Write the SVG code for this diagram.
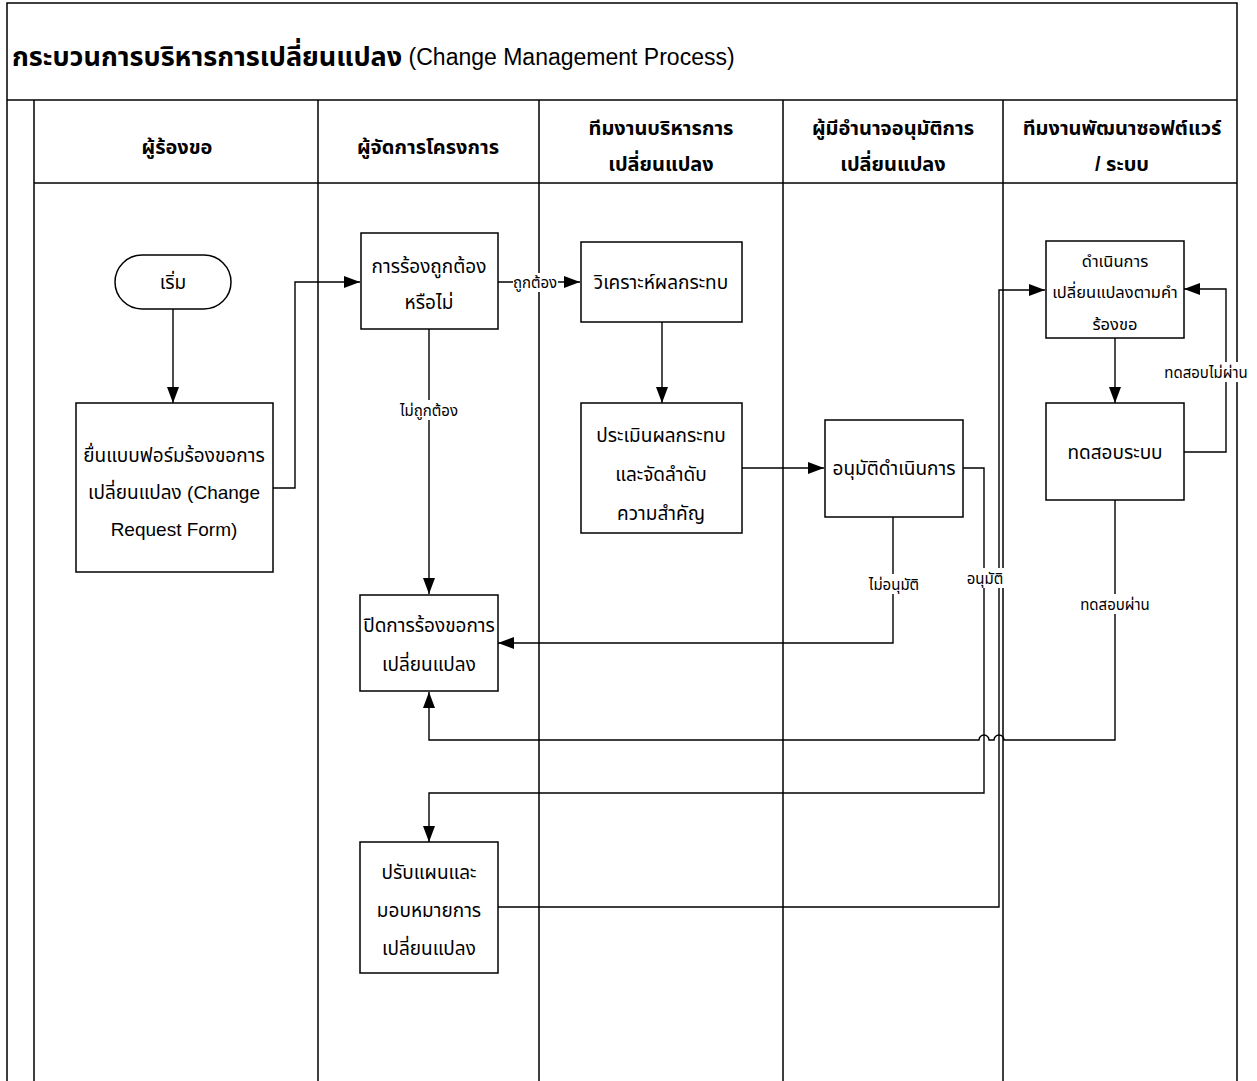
<svg xmlns="http://www.w3.org/2000/svg" width="1257" height="1081" viewBox="0 0 1257 1081">
<style>
.frame{fill:none;stroke:#000;stroke-width:1.5}
.box{fill:#fff;stroke:#000;stroke-width:1.5}
.conn{fill:none;stroke:#000;stroke-width:1.4}
.t{font-family:"Liberation Sans","Noto Sans Thai",sans-serif;font-size:19px;text-anchor:middle;dominant-baseline:central;fill:#000}
.s{font-size:16.5px}
.h{font-family:"Liberation Sans","Noto Sans Thai",sans-serif;font-size:20px;font-weight:bold;text-anchor:middle;dominant-baseline:central;fill:#000}
.lbl{font-family:"Liberation Sans","Noto Sans Thai",sans-serif;font-size:15px;text-anchor:middle;dominant-baseline:central;fill:#000}
.bg{fill:#fff}
</style>
<defs>
<marker id="arr" markerUnits="userSpaceOnUse" markerWidth="17" markerHeight="13" refX="16" refY="6" orient="auto">
<path d="M0,0 L16,6 L0,12 z" fill="#000"/>
</marker>
</defs>
<rect width="1257" height="1081" fill="#fff"/>
<g id="pool">
<path class="frame" d="M7,1081 V3 H1237 V1081"/>
<path class="frame" d="M7,100 H1237"/>
<path class="frame" d="M34,183 H1237"/>
<path class="frame" d="M34,100 V1081 M318,100 V1081 M539,100 V1081 M783,100 V1081 M1003,100 V1081"/>
<text x="12" y="57" style="font-family:'Liberation Sans','Noto Sans Thai',sans-serif;font-size:23px;dominant-baseline:central"><tspan font-weight="bold" font-size="27">กระบวนการบริหารการเปลี่ยนแปลง</tspan> (Change Management Process)</text>
<text class="h" x="177" y="147">ผู้ร้องขอ</text>
<text class="h" x="428" y="147">ผู้จัดการโครงการ</text>
<text class="h" x="661" y="128">ทีมงานบริหารการ</text>
<text class="h" x="661" y="164">เปลี่ยนแปลง</text>
<text class="h" x="893" y="128">ผู้มีอำนาจอนุมัติการ</text>
<text class="h" x="893" y="164">เปลี่ยนแปลง</text>
<text class="h" x="1122" y="128">ทีมงานพัฒนาซอฟต์แวร์</text>
<text class="h" x="1122" y="164">/ ระบบ</text>
</g>
<g id="connectors">
<path class="conn" d="M173,309 V403" marker-end="url(#arr)"/>
<path class="conn" d="M273,488 H295 V282 H360" marker-end="url(#arr)"/>
<path class="conn" d="M498,282 H580" marker-end="url(#arr)"/>
<path class="conn" d="M429,329 V594" marker-end="url(#arr)"/>
<path class="conn" d="M662,322 V403" marker-end="url(#arr)"/>
<path class="conn" d="M742,468 H824" marker-end="url(#arr)"/>
<path class="conn" d="M893,517 V643 H498" marker-end="url(#arr)"/>
<path class="conn" d="M963,468 H984 V793 H429 V842" marker-end="url(#arr)"/>
<path class="conn" d="M498,907 H999 V290 H1045" marker-end="url(#arr)"/>
<path class="conn" d="M1115,338 V403" marker-end="url(#arr)"/>
<path class="conn" d="M1184,452 H1226 V289 H1184" marker-end="url(#arr)"/>
<path class="conn" d="M1115,500 V740 H1004 A5,5 0 0 0 994,740 H989 A5,5 0 0 0 979,740 H429 V692" marker-end="url(#arr)"/>
<rect class="bg" x="513" y="273" width="45" height="19"/>
<text class="lbl" x="535" y="282">ถูกต้อง</text>
<rect class="bg" x="396" y="400" width="66" height="20"/>
<text class="lbl" x="429" y="410">ไม่ถูกต้อง</text>
<rect class="bg" x="864" y="574" width="60" height="20"/>
<text class="lbl" x="894" y="584">ไม่อนุมัติ</text>
<rect class="bg" x="965" y="568" width="40" height="20"/>
<text class="lbl" x="985" y="578">อนุมัติ</text>
<rect class="bg" x="1079" y="594" width="72" height="20"/>
<text class="lbl" x="1115" y="604">ทดสอบผ่าน</text>
<rect class="bg" x="1163" y="362" width="86" height="20"/>
<text class="lbl" x="1206" y="372">ทดสอบไม่ผ่าน</text>
</g>
<g id="start">
<rect class="box" x="115" y="255" width="116" height="54" rx="27" ry="27"/>
<text class="t" x="173" y="282">เริ่ม</text>
</g>
<g id="submit">
<rect class="box" x="76" y="403" width="197" height="169"/>
<text class="t" x="174" y="455">ยื่นแบบฟอร์มร้องขอการ</text>
<text class="t" x="174" y="492">เปลี่ยนแปลง (Change</text>
<text class="t" x="174" y="529">Request Form)</text>
</g>
<g id="check">
<rect class="box" x="361" y="233" width="137" height="96"/>
<text class="t" x="429" y="266">การร้องถูกต้อง</text>
<text class="t" x="429" y="302">หรือไม่</text>
</g>
<g id="analyze">
<rect class="box" x="581" y="242" width="161" height="80"/>
<text class="t" x="661" y="282">วิเคราะห์ผลกระทบ</text>
</g>
<g id="assess">
<rect class="box" x="581" y="403" width="161" height="130"/>
<text class="t" x="661" y="435">ประเมินผลกระทบ</text>
<text class="t" x="661" y="474">และจัดลำดับ</text>
<text class="t" x="661" y="513">ความสำคัญ</text>
</g>
<g id="approve">
<rect class="box" x="825" y="420" width="138" height="97"/>
<text class="t" x="894" y="468">อนุมัติดำเนินการ</text>
</g>
<g id="implement">
<rect class="box" x="1046" y="241" width="138" height="97"/>
<text class="t s" x="1115" y="261">ดำเนินการ</text>
<text class="t s" x="1115" y="292">เปลี่ยนแปลงตามคำ</text>
<text class="t s" x="1115" y="324">ร้องขอ</text>
</g>
<g id="test">
<rect class="box" x="1046" y="403" width="138" height="97"/>
<text class="t" x="1115" y="452">ทดสอบระบบ</text>
</g>
<g id="close">
<rect class="box" x="360" y="595" width="138" height="96"/>
<text class="t" x="429" y="625">ปิดการร้องขอการ</text>
<text class="t" x="429" y="664">เปลี่ยนแปลง</text>
</g>
<g id="replan">
<rect class="box" x="360" y="842" width="138" height="131"/>
<text class="t" x="429" y="872">ปรับแผนและ</text>
<text class="t" x="429" y="910">มอบหมายการ</text>
<text class="t" x="429" y="948">เปลี่ยนแปลง</text>
</g>
</svg>
